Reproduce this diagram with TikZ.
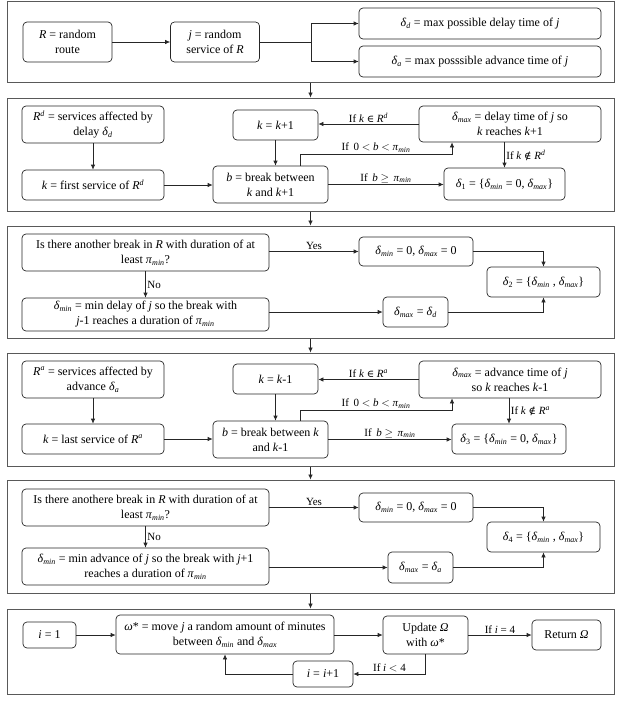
\documentclass[tikz,border=0pt]{standalone}
\usepackage{fontspec}
\setmainfont{Liberation Serif}
\newfontfamily\symf{DejaVu Serif}
\usetikzlibrary{arrows.meta}
\newcommand{\myv}[1]{\textit{#1}}
\newcommand{\dsub}[1]{\textit{δ}\textsubscript{\textit{#1}}}
\newcommand{\dnum}[1]{\textit{δ}\textsubscript{#1}}
\newcommand{\pmin}{\textit{π}\textsubscript{\textit{min}}}
\newcommand{\isin}{{\symf\fontsize{10}{12}\selectfont ∈}}
\newcommand{\notinset}{{\symf\fontsize{10}{12}\selectfont ∉}}
\newcommand{\fs}{\fontsize{12}{15}\selectfont}
\newcommand{\fl}{\fontsize{11}{13}\selectfont}
\tikzset{
  box/.style={draw=black!85, rounded corners=4pt, align=center, inner sep=0pt, line width=0.7pt, font=\fs},
  panel/.style={draw=black!65, line width=1pt, inner sep=0pt},
  sz/.style 2 args={minimum width=#1pt, minimum height=#2pt},
  arr/.style={draw=black!85, line width=0.7pt, -{Latex[length=5pt,width=4.5pt]}},
  lnk/.style={draw=black!85, line width=0.7pt},
  lbl/.style={font=\fl, inner sep=1.5pt}
}
\begin{document}
\begin{tikzpicture}[x=1pt,y=-1pt]
\useasboundingbox (0,0) rectangle (621,702);
% panels
\node[panel, sz={607}{81}]  (p1) at (310.5,41.5) {};
\node[panel, sz={607}{113}] (p2) at (310.5,154.5) {};
\node[panel, sz={607}{112}] (p3) at (310.5,282) {};
\node[panel, sz={607}{113}] (p4) at (310.5,409.5) {};
\node[panel, sz={607}{113}] (p5) at (310.5,536.5) {};
\node[panel, sz={607}{85}]  (p6) at (310.5,651.5) {};
\draw[arr] (p1.south) -- (p2.north);
\draw[arr] (p2.south) -- (p3.north);
\draw[arr] (p3.south) -- (p4.north);
\draw[arr] (p4.south) -- (p5.north);
\draw[arr] (p5.south) -- (p6.north);

% panel 1
\node[box, sz={89}{40}] (R) at (67.5,42) {\myv{R} = random\\route};
\node[box, sz={89}{40}] (j) at (215,42) {\myv{j} = random\\service of \myv{R}};
\node[box, sz={242}{31}] (dd) at (480,23.5) {\dsub{d} = max possible delay time of \myv{j}};
\node[box, sz={242}{31}] (da) at (480,61.5) {\dsub{a} = max posssible advance time of \myv{j}};
\coordinate (split) at (311,42);
\draw[arr] (R) -- (j);
\draw[lnk] (j.east) -- (split);
\draw[arr] (split) |- (dd.west);
\draw[arr] (split) |- (da.west);

% panel 2
\node[box, sz={142}{37}] (rd) at (93,124.5) {\myv{R}\textsuperscript{\myv{d}} = services affected by\\delay \dsub{d}};
\node[box, sz={142}{30}] (kf) at (93,185) {\myv{k} = first service of \myv{R}\textsuperscript{\myv{d}}};
\node[box, sz={85}{30}] (kk) at (275.5,125) {\myv{k} = \myv{k}+1};
\node[box, sz={115}{37}] (b1) at (270.5,184.5) {\myv{b} = break between\\\myv{k} and \myv{k}+1};
\node[box, sz={182}{36}] (dm1) at (510,124) {\dsub{max} = delay time of \myv{j} so\\\myv{k} reaches \myv{k}+1};
\node[box, sz={121}{32}] (d1) at (504.5,184) {\dnum{1} = \{\dsub{min} = 0, \dsub{max}\}};
\coordinate (c1) at (452,154);
\draw[arr] (rd) -- (kf);
\draw[arr] (kf.east) -- (kf.east -| b1.west);
\draw[arr] (kk) -- (kk |- b1.north);
\draw[arr] (dm1.west) -- node[lbl, above] {If \myv{k} \isin{} \myv{R}\textsuperscript{\myv{d}}} (dm1.west -| kk.east);
\draw[arr] ([xshift=29.5pt]b1.north) |- node[lbl, pos=0.75, above] {If\, 0 $<$ \myv{b} $<$ \pmin} (c1) -- (c1 |- dm1.south);
\draw[arr] (b1.east) -- node[lbl, above] {If\, \myv{b} $\geq$\, \pmin} (b1.east -| d1.west);
\draw[arr] (d1.north |- dm1.south) -- node[lbl, right, pos=0.5] {If \myv{k} \notinset{} \myv{R}\textsuperscript{\myv{d}}} (d1.north);

% panel 3
\node[box, sz={247}{37}] (q1) at (145.5,252.5) {Is there another break in \myv{R} with duration of at\\least \pmin?};
\node[box, sz={247}{33}] (mn1) at (145.5,314.5) {\dsub{min} = min delay of \myv{j} so the break with\\\myv{j}-1 reaches a duration of \pmin};
\node[box, sz={114}{29}] (y1) at (416,251.5) {\dsub{min} = 0, \dsub{max} = 0};
\node[box, sz={113}{30}] (d2) at (543.5,282) {\dnum{2} = \{\dsub{min} , \dsub{max}\}};
\node[box, sz={65}{30}] (mx1) at (415.5,312) {\dsub{max} = \dsub{d}};
\draw[arr] (q1.east |- y1.west) -- node[lbl, above] {Yes} (y1.west);
\draw[arr] (q1) -- node[lbl, right] {No} (mn1);
\draw[arr] (mn1.east |- mx1.west) -- (mx1.west);
\draw[arr] (y1.east) -| (d2.north);
\draw[arr] (mx1.east) -| (d2.south);

% panel 4
\node[box, sz={142}{37}] (ra) at (93,379.5) {\myv{R}\textsuperscript{\myv{a}} = services affected by\\advance \dsub{a}};
\node[box, sz={142}{30}] (kl) at (93,439) {\myv{k} = last service of \myv{R}\textsuperscript{\myv{a}}};
\node[box, sz={85}{30}] (km) at (275.5,379) {\myv{k} = \myv{k}-1};
\node[box, sz={115}{37}] (b2) at (270.5,439.5) {\myv{b} = break between \myv{k}\\and \myv{k}-1};
\node[box, sz={182}{37}] (dm2) at (510,379.5) {\dsub{max} = advance time of \myv{j}\\so \myv{k} reaches \myv{k}-1};
\node[box, sz={114}{30}] (d3) at (509,439) {\dnum{3} = \{\dsub{min} = 0, \dsub{max}\}};
\coordinate (c2) at (452,410);
\draw[arr] (ra) -- (kl);
\draw[arr] (kl.east) -- (kl.east -| b2.west);
\draw[arr] (km) -- (km |- b2.north);
\draw[arr] (dm2.west) -- node[lbl, above] {If \myv{k} \isin{} \myv{R}\textsuperscript{\myv{a}}} (dm2.west -| km.east);
\draw[arr] ([xshift=29.5pt]b2.north) |- node[lbl, pos=0.75, above] {If\, 0 $<$ \myv{b} $<$ \pmin} (c2) -- (c2 |- dm2.south);
\draw[arr] (b2.east) -- node[lbl, above] {If\, \myv{b} $\geq$\, \pmin} (b2.east -| d3.west);
\draw[arr] (d3.north |- dm2.south) -- node[lbl, right, pos=0.5] {If \myv{k} \notinset{} \myv{R}\textsuperscript{\myv{a}}} (d3.north);

% panel 5
\node[box, sz={247}{37}] (q2) at (145.5,507.5) {Is there anothere break in \myv{R} with duration of at\\least \pmin?};
\node[box, sz={247}{37}] (mn2) at (145.5,566.5) {\dsub{min} = min advance of \myv{j} so the break with \myv{j}+1\\reaches a duration of \pmin};
\node[box, sz={114}{29}] (y2) at (416,507.5) {\dsub{min} = 0, \dsub{max} = 0};
\node[box, sz={113}{30}] (d4) at (543.5,537) {\dnum{4} = \{\dsub{min} , \dsub{max}\}};
\node[box, sz={65}{31}] (mx2) at (420.5,567.5) {\dsub{max} = \dsub{a}};
\draw[arr] (q2.east |- y2.west) -- node[lbl, above] {Yes} (y2.west);
\draw[arr] (q2) -- node[lbl, right] {No} (mn2);
\draw[arr] (mn2.east |- mx2.west) -- (mx2.west);
\draw[arr] (y2.east) -| (d4.north);
\draw[arr] (mx2.east) -| (d4.south);

% panel 6
\node[box, sz={53}{26}] (i1) at (49.5,635) {\myv{i} = 1};
\node[box, sz={218}{39}] (om) at (225,634.5) {\myv{ω}* = move \myv{j} a random amount of minutes\\between \dsub{min} and \dsub{max}};
\node[box, sz={85}{38}] (up) at (425.5,635) {Update \myv{Ω}\\with \myv{ω}*};
\node[box, sz={69}{30}] (ret) at (566.5,635) {Return \myv{Ω}};
\node[box, sz={60}{26}] (inc) at (323,674) {\myv{i} = \myv{i}+1};
\draw[arr] (i1.east) -- (i1.east -| om.west);
\draw[arr] (om.east |- up.west) -- (up.west);
\draw[arr] (up.east) -- node[lbl, above] {If \myv{i} = 4} (ret.west);
\draw[arr] (up.south) |- node[lbl, pos=0.75, above] {If \myv{i} $<$ 4} (inc.east);
\draw[arr] (inc.west) -| (om.south);
\end{tikzpicture}
\end{document}
